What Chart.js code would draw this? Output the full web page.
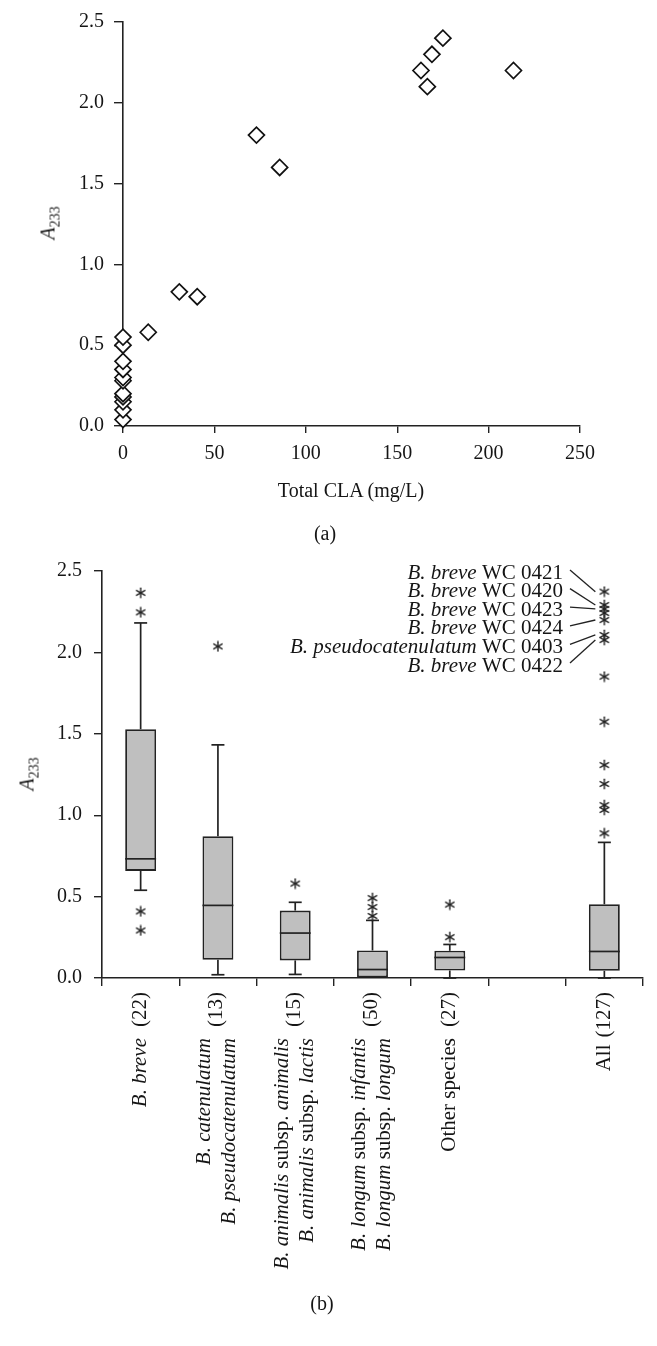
<!DOCTYPE html>
<html>
<head>
<meta charset="utf-8">
<script src="https://cdn.jsdelivr.net/npm/chart.js@4.4.1/dist/chart.umd.min.js"></script>
<style>
  body { margin: 0; background: #fff; }
  #page { position: relative; width: 657px; height: 1346px; font-family: "Liberation Serif", serif; color: #151515; }
  canvas { position: absolute; left: 0; }
  .lbl { position: absolute; transform: translate(-50%, -50%); font-size: 20px; white-space: nowrap; }
  .rot { transform: translate(-50%, -50%) rotate(-90deg); }
  .lbl sub { font-size: 14px; vertical-align: -5px; line-height: 0; }
</style>
</head>
<body>
<div id="page">
  <canvas id="chartA" width="657" height="545" style="top:0"></canvas>
  <canvas id="chartB" width="657" height="801" style="top:545px"></canvas>
  <div class="lbl rot" style="left:48px;top:223px"><i>A</i><sub>233</sub></div>
  <div class="lbl" style="left:351px;top:490px">Total CLA (mg/L)</div>
  <div class="lbl" style="left:325px;top:533px">(a)</div>
  <div class="lbl rot" style="left:27px;top:774px"><i>A</i><sub>233</sub></div>
  <div class="lbl" style="left:322px;top:1303px">(b)</div>
</div>
<script>
// (a) total CLA vs A233
const claMgL = [0, 0, 0, 0, 0, 0, 0, 0, 0, 0, 0, 13.8, 30.8, 40.6, 73, 85.7, 163, 166.5, 169, 175, 213.6];
const a233 = [0.04, 0.10, 0.15, 0.18, 0.20, 0.28, 0.30, 0.35, 0.40, 0.50, 0.55, 0.58, 0.83, 0.80, 1.80, 1.60, 2.20, 2.10, 2.30, 2.40, 2.20];

// (b) box plots per group ('|' toggles italics)
const groupKeys = ['breve', 'catenulatum', 'animalis', 'longum', 'other', 'gap', 'all'];
const groupCounts = ['(22)', '(13)', '(15)', '(50)', '(27)', '', '(127)'];
const groupLines = [
  ['|B. breve|'],
  ['|B. catenulatum|', '|B. pseudocatenulatum|'],
  ['|B. animalis| subsp. |animalis|', '|B. animalis| subsp. |lactis|'],
  ['|B. longum| subsp. |infantis|', '|B. longum| subsp. |longum|'],
  ['Other species'],
  [],
  ['All']
];
const whiskerLow = [0.539, 0.02, 0.022, 0, 0, null, 0];
const boxQ1 = [0.658, 0.112, 0.108, 0, 0.046, null, 0.044];
const boxMedian = [0.732, 0.446, 0.276, 0.052, 0.126, null, 0.163];
const boxQ3 = [1.528, 0.871, 0.414, 0.169, 0.167, null, 0.453];
const whiskerHigh = [2.181, 1.432, 0.465, 0.354, 0.206, null, 0.833];
const outliers = [
  [2.366, 2.246, 0.409, 0.292],
  [2.037],
  [0.58],
  [0.491, 0.436, 0.381],
  [0.451, 0.251],
  [],
  [2.373, 2.291, 2.267, 2.242, 2.199, 2.107, 2.076, 1.851, 1.574, 1.308, 1.192, 1.062, 1.032, 0.889]
];
const strainLabels = ['|B. breve| WC 0421', '|B. breve| WC 0420', '|B. breve| WC 0423',
  '|B. breve| WC 0424', '|B. pseudocatenulatum| WC 0403', '|B. breve| WC 0422'];
const strainValues = [2.373, 2.291, 2.267, 2.199, 2.107, 2.076];

const ink = '#151515';
const tickFont = { family: 'Liberation Serif', size: 20 };

function fontFor(italic, size) {
  return (italic ? 'italic ' : '') + size + 'px "Liberation Serif"';
}

function runsOf(str) {
  return str.split('|').map((t, k) => [t, k % 2 === 1]).filter(r => r[0]);
}

function runsWidth(ctx, str, size) {
  let w = 0;
  runsOf(str).forEach(r => { ctx.font = fontFor(r[1], size); w += ctx.measureText(r[0]).width; });
  return w;
}

// draws a string with |italic| runs, right end at (x, y)
function drawRuns(ctx, str, x, y, size, rotated) {
  const w = runsWidth(ctx, str, size);
  ctx.save();
  ctx.translate(x, y);
  if (rotated) ctx.rotate(-Math.PI / 2);
  ctx.textBaseline = 'middle';
  ctx.textAlign = 'left';
  ctx.fillStyle = ink;
  let p = -w;
  runsOf(str).forEach(r => {
    ctx.font = fontFor(r[1], size);
    ctx.fillText(r[0], p, 0);
    p += ctx.measureText(r[0]).width;
  });
  ctx.restore();
}

function axisOpts(extra) {
  return Object.assign({
    grid: { drawOnChartArea: false, color: '#222', lineWidth: 1.4 },
    border: { color: '#222', width: 1.6 }
  }, extra);
}

new Chart(document.getElementById('chartA'), {
  type: 'scatter',
  data: {
    datasets: [{
      data: claMgL.map((x, i) => ({ x: x, y: a233[i] })),
      pointStyle: 'rectRot',
      pointRadius: 8,
      pointHoverRadius: 8,
      borderColor: '#111',
      backgroundColor: '#fff',
      borderWidth: 1.7,
      clip: false
    }]
  },
  options: {
    responsive: false,
    animation: false,
    events: [],
    layout: { padding: { left: 63, right: 77, top: 22, bottom: 59 } },
    plugins: { legend: { display: false }, tooltip: { enabled: false } },
    scales: {
      x: axisOpts({
        type: 'linear', min: 0, max: 250,
        ticks: { stepSize: 50, font: tickFont, color: ink, padding: 9 },
        grid: { drawOnChartArea: false, color: '#222', lineWidth: 1.4, tickLength: 7 },
        afterFit: s => { s.height = 60; }
      }),
      y: axisOpts({
        min: 0, max: 2.5,
        ticks: { stepSize: 0.5, callback: v => v.toFixed(1), font: tickFont, color: ink, padding: 10 },
        grid: { drawOnChartArea: false, color: '#222', lineWidth: 1.4, tickLength: 9 },
        afterFit: s => { s.width = 60; }
      })
    }
  }
});

// star marker like the "*" glyph
const starImg = document.createElement('canvas');
starImg.width = 12;
starImg.height = 12;
(function () {
  const g = starImg.getContext('2d');
  g.strokeStyle = '#222';
  g.lineWidth = 1.4;
  g.lineCap = 'round';
  for (let k = 0; k < 3; k++) {
    const a = Math.PI / 2 + k * Math.PI / 3;
    g.beginPath();
    g.moveTo(6 + 4.8 * Math.cos(a), 6 + 4.8 * Math.sin(a));
    g.lineTo(6 - 4.8 * Math.cos(a), 6 - 4.8 * Math.sin(a));
    g.stroke();
  }
})();

const whiskerPlugin = {
  id: 'whiskers',
  afterDatasetsDraw(chart) {
    const ctx = chart.ctx;
    const y = chart.scales.y;
    const bars = chart.getDatasetMeta(0).data;
    const line = (x1, y1, x2, y2) => { ctx.beginPath(); ctx.moveTo(x1, y1); ctx.lineTo(x2, y2); ctx.stroke(); };
    ctx.save();
    ctx.strokeStyle = '#222';
    ctx.lineWidth = 1.7;
    bars.forEach((bar, i) => {
      if (boxQ1[i] == null) return;
      const cx = bar.x, half = bar.width / 2, cap = 6.5;
      const pHi = y.getPixelForValue(whiskerHigh[i]);
      const pQ3 = y.getPixelForValue(boxQ3[i]);
      const pQ1 = y.getPixelForValue(boxQ1[i]);
      const pLo = y.getPixelForValue(whiskerLow[i]);
      const pMed = y.getPixelForValue(boxMedian[i]);
      line(cx, pQ3, cx, pHi);
      line(cx - cap, pHi, cx + cap, pHi);
      if (whiskerLow[i] < boxQ1[i]) {
        line(cx, pQ1, cx, pLo);
        line(cx - cap, pLo, cx + cap, pLo);
      }
      line(cx - half, pMed, cx + half, pMed);
    });
    ctx.restore();
  }
};

const labelPlugin = {
  id: 'groupLabels',
  afterDraw(chart) {
    const ctx = chart.ctx;
    const x = chart.scales.x, y = chart.scales.y;
    const area = chart.chartArea;
    const top = area.bottom + 14;
    const size = 21;
    groupKeys.forEach((k, i) => {
      const cx = x.getPixelForValue(i);
      const lines = groupLines[i];
      if (!lines.length) return;
      const nameTop = top + Math.max(46, runsWidth(ctx, groupCounts[i], size) + 7);
      if (lines.length === 1) {
        drawRuns(ctx, lines[0], cx, nameTop, size, true);
        drawRuns(ctx, groupCounts[i], cx, top, size, true);
      } else {
        drawRuns(ctx, lines[0], cx - 13, nameTop, size, true);
        drawRuns(ctx, lines[1], cx + 12, nameTop, size, true);
        drawRuns(ctx, groupCounts[i], cx - 1, top, size, true);
      }
    });
    // strain annotations pointing at the "All" outliers
    const allX = chart.getDatasetMeta(0).data[6].x;
    const right = area.right - 80;
    ctx.save();
    ctx.strokeStyle = '#222';
    ctx.lineWidth = 1.3;
    strainLabels.forEach((s, i) => {
      const ly = area.top + 2 + i * 18.6;
      drawRuns(ctx, s, right, ly, 21, false);
      ctx.beginPath();
      ctx.moveTo(right + 7, ly - 3);
      ctx.lineTo(allX - 9, y.getPixelForValue(strainValues[i]));
      ctx.stroke();
    });
    ctx.restore();
  }
};

new Chart(document.getElementById('chartB'), {
  type: 'bar',
  data: {
    labels: groupKeys,
    datasets: [
      {
        type: 'bar',
        data: boxQ1.map((q, i) => q == null ? null : [q, boxQ3[i]]),
        backgroundColor: '#bfbfbf',
        borderColor: '#222',
        borderWidth: 1.8,
        borderSkipped: false,
        barPercentage: 0.4,
        categoryPercentage: 1
      },
      {
        type: 'line',
        data: outliers.flatMap((arr, i) => arr.map(v => ({ x: groupKeys[i], y: v }))),
        showLine: false,
        pointStyle: starImg,
        pointRadius: 5,
        clip: false
      }
    ]
  },
  options: {
    responsive: false,
    animation: false,
    events: [],
    layout: { padding: { left: 52, right: 14, top: 26, bottom: 0 } },
    plugins: { legend: { display: false }, tooltip: { enabled: false } },
    scales: {
      x: axisOpts({
        ticks: { display: false },
        grid: { offset: true, drawOnChartArea: false, color: '#222', lineWidth: 1.4, tickLength: 8 },
        afterFit: s => { s.height = 368; }
      }),
      y: axisOpts({
        min: 0, max: 2.5,
        ticks: { stepSize: 0.5, callback: v => v.toFixed(1), font: tickFont, color: ink, padding: 12 },
        grid: { drawOnChartArea: false, color: '#222', lineWidth: 1.4, tickLength: 8 },
        afterFit: s => { s.width = 50; }
      })
    }
  },
  plugins: [whiskerPlugin, labelPlugin]
});
</script>
</body>
</html>
